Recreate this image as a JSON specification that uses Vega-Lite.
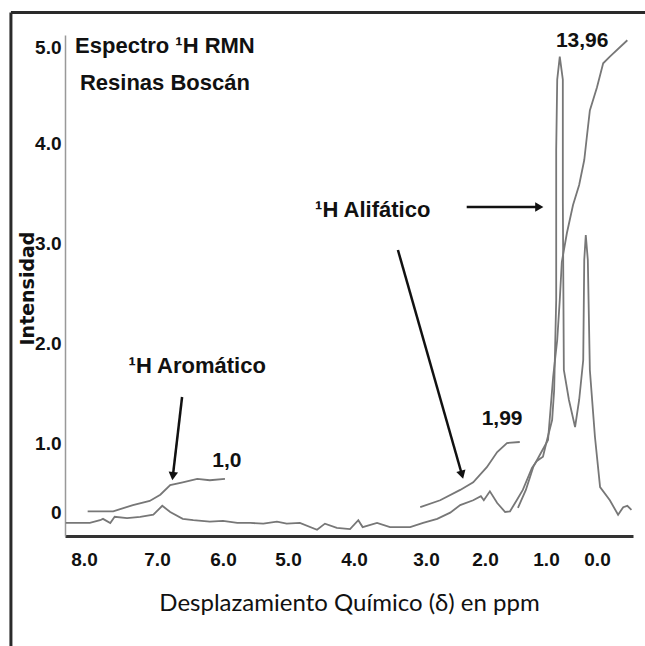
{
  "$schema": "https://vega.github.io/schema/vega-lite/v6.json",
  "width": 568,
  "height": 501,
  "autosize": "none",
  "padding": {"left": 65, "top": 35, "right": 12, "bottom": 110},
  "background": "white",
  "config": {"view": {"stroke": null}},
  "datasets": {
    "curves": [
      {"s":"spec","i":1,"ppm":8.25,"y":-0.16},{"s":"spec","i":2,"ppm":7.92,"y":-0.16},{"s":"spec","i":3,"ppm":7.78,"y":-0.12},{"s":"spec","i":4,"ppm":7.74,"y":-0.10},{"s":"spec","i":5,"ppm":7.64,"y":-0.16},{"s":"spec","i":6,"ppm":7.58,"y":-0.07},{"s":"spec","i":7,"ppm":7.41,"y":-0.09},{"s":"spec","i":8,"ppm":7.23,"y":-0.07},{"s":"spec","i":9,"ppm":7.05,"y":-0.04},{"s":"spec","i":10,"ppm":6.92,"y":0.09},
      {"s":"spec","i":11,"ppm":6.80,"y":0.00},{"s":"spec","i":12,"ppm":6.61,"y":-0.10},{"s":"spec","i":13,"ppm":6.45,"y":-0.12},{"s":"spec","i":14,"ppm":6.20,"y":-0.14},{"s":"spec","i":15,"ppm":6.00,"y":-0.13},{"s":"spec","i":16,"ppm":5.78,"y":-0.16},{"s":"spec","i":17,"ppm":5.58,"y":-0.16},{"s":"spec","i":18,"ppm":5.38,"y":-0.17},{"s":"spec","i":19,"ppm":5.17,"y":-0.14},{"s":"spec","i":20,"ppm":5.02,"y":-0.17},
      {"s":"spec","i":21,"ppm":4.82,"y":-0.16},{"s":"spec","i":22,"ppm":4.56,"y":-0.26},{"s":"spec","i":23,"ppm":4.44,"y":-0.17},{"s":"spec","i":24,"ppm":4.26,"y":-0.23},{"s":"spec","i":25,"ppm":4.06,"y":-0.25},{"s":"spec","i":26,"ppm":3.94,"y":-0.12},{"s":"spec","i":27,"ppm":3.88,"y":-0.22},{"s":"spec","i":28,"ppm":3.68,"y":-0.16},{"s":"spec","i":29,"ppm":3.50,"y":-0.22},{"s":"spec","i":30,"ppm":3.22,"y":-0.22},
      {"s":"spec","i":31,"ppm":3.04,"y":-0.16},{"s":"spec","i":32,"ppm":2.81,"y":-0.10},{"s":"spec","i":33,"ppm":2.59,"y":-0.01},{"s":"spec","i":34,"ppm":2.42,"y":0.10},{"s":"spec","i":35,"ppm":2.20,"y":0.17},{"s":"spec","i":36,"ppm":2.07,"y":0.23},{"s":"spec","i":37,"ppm":2.02,"y":0.17},{"s":"spec","i":38,"ppm":1.92,"y":0.30},{"s":"spec","i":39,"ppm":1.80,"y":0.13},{"s":"spec","i":40,"ppm":1.67,"y":0.00},
      {"s":"spec","i":41,"ppm":1.59,"y":0.01},{"s":"spec","i":42,"ppm":1.48,"y":0.17},{"s":"spec","i":43,"ppm":1.38,"y":0.32},{"s":"spec","i":44,"ppm":1.23,"y":0.64},{"s":"spec","i":45,"ppm":1.15,"y":0.74},{"s":"spec","i":46,"ppm":1.05,"y":0.80},{"s":"spec","i":47,"ppm":0.98,"y":1.03},{"s":"spec","i":48,"ppm":0.88,"y":1.23},{"s":"spec","i":49,"ppm":0.84,"y":1.53},{"s":"spec","i":50,"ppm":0.80,"y":2.43},
      {"s":"spec","i":51,"ppm":0.80,"y":3.93},{"s":"spec","i":52,"ppm":0.78,"y":4.66},{"s":"spec","i":53,"ppm":0.73,"y":4.90},{"s":"spec","i":54,"ppm":0.67,"y":4.66},{"s":"spec","i":55,"ppm":0.67,"y":3.43},{"s":"spec","i":56,"ppm":0.65,"y":1.73},{"s":"spec","i":57,"ppm":0.55,"y":1.43},{"s":"spec","i":58,"ppm":0.43,"y":1.16},{"s":"spec","i":59,"ppm":0.35,"y":1.43},{"s":"spec","i":60,"ppm":0.27,"y":1.83},
      {"s":"spec","i":61,"ppm":0.25,"y":2.83},{"s":"spec","i":62,"ppm":0.22,"y":3.08},{"s":"spec","i":63,"ppm":0.18,"y":2.83},{"s":"spec","i":64,"ppm":0.14,"y":1.73},{"s":"spec","i":65,"ppm":0.04,"y":1.06},{"s":"spec","i":66,"ppm":-0.06,"y":0.36},{"s":"spec","i":67,"ppm":-0.25,"y":0.17},{"s":"spec","i":68,"ppm":-0.41,"y":-0.04},{"s":"spec","i":69,"ppm":-0.51,"y":0.07},{"s":"spec","i":70,"ppm":-0.59,"y":0.09},{"s":"spec","i":71,"ppm":-0.67,"y":0.03},
      {"s":"aro","i":1,"ppm":7.95,"y":0.01},{"s":"aro","i":2,"ppm":7.60,"y":0.01},{"s":"aro","i":3,"ppm":7.33,"y":0.10},{"s":"aro","i":4,"ppm":7.10,"y":0.16},{"s":"aro","i":5,"ppm":6.95,"y":0.25},{"s":"aro","i":6,"ppm":6.80,"y":0.39},{"s":"aro","i":7,"ppm":6.61,"y":0.43},{"s":"aro","i":8,"ppm":6.39,"y":0.48},{"s":"aro","i":9,"ppm":6.20,"y":0.46},{"s":"aro","i":10,"ppm":5.97,"y":0.48},
      {"s":"ali1","i":1,"ppm":3.08,"y":0.07},{"s":"ali1","i":2,"ppm":2.76,"y":0.17},{"s":"ali1","i":3,"ppm":2.42,"y":0.32},{"s":"ali1","i":4,"ppm":2.20,"y":0.43},{"s":"ali1","i":5,"ppm":1.97,"y":0.65},{"s":"ali1","i":6,"ppm":1.80,"y":0.87},{"s":"ali1","i":7,"ppm":1.64,"y":1.00},{"s":"ali1","i":8,"ppm":1.43,"y":1.01},
      {"s":"ali2","i":1,"ppm":1.46,"y":0.06},{"s":"ali2","i":2,"ppm":1.33,"y":0.32},{"s":"ali2","i":3,"ppm":1.21,"y":0.65},{"s":"ali2","i":4,"ppm":1.10,"y":0.83},{"s":"ali2","i":5,"ppm":0.96,"y":1.03},{"s":"ali2","i":6,"ppm":0.86,"y":1.66},{"s":"ali2","i":7,"ppm":0.78,"y":2.03},{"s":"ali2","i":8,"ppm":0.73,"y":2.43},{"s":"ali2","i":9,"ppm":0.69,"y":2.81},{"s":"ali2","i":10,"ppm":0.59,"y":3.10},
      {"s":"ali2","i":11,"ppm":0.47,"y":3.38},{"s":"ali2","i":12,"ppm":0.35,"y":3.58},{"s":"ali2","i":13,"ppm":0.25,"y":3.83},{"s":"ali2","i":14,"ppm":0.20,"y":4.06},{"s":"ali2","i":15,"ppm":0.14,"y":4.34},{"s":"ali2","i":16,"ppm":0.00,"y":4.58},{"s":"ali2","i":17,"ppm":-0.12,"y":4.83},{"s":"ali2","i":18,"ppm":-0.25,"y":4.90},{"s":"ali2","i":19,"ppm":-0.59,"y":5.07}
    ],
    "labels": [
      {"t":"Espectro ¹H RMN\nResinas Boscán","ppm":6.88,"y":4.94},
      {"t":"¹H Aromático","ppm":6.39,"y":1.70},
      {"t":"¹H Alifático","ppm":3.74,"y":3.26}
    ],
    "numbers": [
      {"t":"1,0","ppm":5.94,"y":0.65},
      {"t":"1,99","ppm":1.72,"y":1.18},
      {"t":"13,96","ppm":0.29,"y":5.0}
    ],
    "frame": [
      {"edge":"top","ppm":9.0,"ppm2":-1.0,"y":5.36}
    ],
    "arrows": [
      {"id":"a1","ppm":6.62,"y":1.46,"ppm2":6.76,"y2":0.52},
      {"id":"a2","ppm":3.39,"y":2.93,"ppm2":2.39,"y2":0.54},
      {"id":"a3","ppm":2.31,"y":3.36,"ppm2":1.11,"y2":3.36}
    ],
    "heads": [
      {"id":"a1","ppm":6.76,"y":0.52},
      {"id":"a2","ppm":2.39,"y":0.54},
      {"id":"a3","ppm":1.11,"y":3.36}
    ]
  },
  "layer": [
    {
      "data": {"name": "curves"},
      "mark": {"type": "line", "stroke": "#777", "strokeWidth": 1.8, "interpolate": "linear"},
      "encoding": {
        "x": {
          "field": "ppm", "type": "quantitative",
          "scale": {"domain": [8.26, 8, 7, 6, 5, 4, 3, 2, 1, 0, -0.7], "range": [0, 19, 92, 158, 223, 289, 361, 420, 481, 532, 568], "nice": false, "zero": false},
          "axis": {
            "values": [8, 7, 6, 5, 4, 3, 2, 1, 0], "format": ".1f", "grid": false, "ticks": false, "tickSize": 0,
            "labelFont": "Liberation Sans", "labelFontWeight": "bold", "labelFontSize": 19, "labelColor": "#111", "labelPadding": 14,
            "domainColor": "#333", "domainWidth": 3,
            "title": "Desplazamiento Químico (δ) en ppm", "titleFont": "Lato", "titleFontWeight": "normal", "titleFontSize": 24, "titleColor": "#111", "titleBaseline": "alphabetic", "titleY": 74
          }
        },
        "y": {
          "field": "y", "type": "quantitative",
          "scale": {"domain": [-0.35, 0, 1, 2, 3, 4, 5, 5.125], "range": [501, 477, 408, 308, 208, 108, 12, 0], "nice": false, "zero": false},
          "axis": {
            "values": [0, 1, 2, 3, 4, 5], "labelExpr": "datum.value === 0 ? '0' : format(datum.value, '.1f')", "grid": false, "ticks": false, "tickSize": 0,
            "labelFont": "Liberation Sans", "labelFontWeight": "bold", "labelFontSize": 19, "labelColor": "#111", "labelPadding": 4,
            "domainColor": "#999", "domainWidth": 1.5,
            "title": "Intensidad", "titleFont": "DejaVu Sans", "titleFontWeight": "bold", "titleFontSize": 19, "titleColor": "#111", "titleAngle": -90, "titleX": -38, "titleY": 253, "titleAlign": "center", "titleBaseline": "middle"
          }
        },
        "detail": {"field": "s"},
        "order": {"field": "i", "type": "quantitative"}
      }
    },
    {
      "data": {"name": "frame"},
      "mark": {"type": "rule", "stroke": "#2a2a2a", "strokeWidth": 3},
      "encoding": {"x": {"field": "ppm", "type": "quantitative"}, "x2": {"field": "ppm2"}, "y": {"field": "y", "type": "quantitative"}}
    },
    {
      "data": {"values": [{"edge": "left"}]},
      "mark": {"type": "rule", "stroke": "#2a2a2a", "strokeWidth": 3},
      "encoding": {"x": {"datum": 9.0, "type": "quantitative"}, "y": {"datum": 5.36, "type": "quantitative"}, "y2": {"datum": -2.0}}
    },
    {
      "data": {"name": "arrows"},
      "mark": {"type": "rule", "stroke": "#111", "strokeWidth": 2.5},
      "encoding": {"x": {"field": "ppm", "type": "quantitative"}, "y": {"field": "y", "type": "quantitative"}, "x2": {"field": "ppm2"}, "y2": {"field": "y2"}}
    },
    {
      "data": {"name": "heads"},
      "transform": [{"filter": "datum.id == 'a1'"}],
      "mark": {"type": "point", "shape": "triangle-down", "filled": true, "size": 90, "color": "#111", "opacity": 1, "angle": 7},
      "encoding": {"x": {"field": "ppm", "type": "quantitative"}, "y": {"field": "y", "type": "quantitative"}}
    },
    {
      "data": {"name": "heads"},
      "transform": [{"filter": "datum.id == 'a2'"}],
      "mark": {"type": "point", "shape": "triangle-down", "filled": true, "size": 90, "color": "#111", "opacity": 1, "angle": -16},
      "encoding": {"x": {"field": "ppm", "type": "quantitative"}, "y": {"field": "y", "type": "quantitative"}}
    },
    {
      "data": {"name": "heads"},
      "transform": [{"filter": "datum.id == 'a3'"}],
      "mark": {"type": "point", "shape": "triangle-down", "filled": true, "size": 90, "color": "#111", "opacity": 1, "angle": -90},
      "encoding": {"x": {"field": "ppm", "type": "quantitative"}, "y": {"field": "y", "type": "quantitative"}}
    },
    {
      "data": {"name": "labels"},
      "mark": {"type": "text", "align": "center", "baseline": "alphabetic", "font": "Liberation Sans", "fontWeight": "bold", "fontSize": 22, "lineBreak": "\n", "lineHeight": 37, "color": "#111"},
      "encoding": {"x": {"field": "ppm", "type": "quantitative"}, "y": {"field": "y", "type": "quantitative"}, "text": {"field": "t"}}
    },
    {
      "data": {"name": "numbers"},
      "mark": {"type": "text", "align": "center", "baseline": "alphabetic", "font": "Liberation Sans", "fontWeight": "bold", "fontSize": 21, "color": "#111"},
      "encoding": {"x": {"field": "ppm", "type": "quantitative"}, "y": {"field": "y", "type": "quantitative"}, "text": {"field": "t"}}
    }
  ]
}
